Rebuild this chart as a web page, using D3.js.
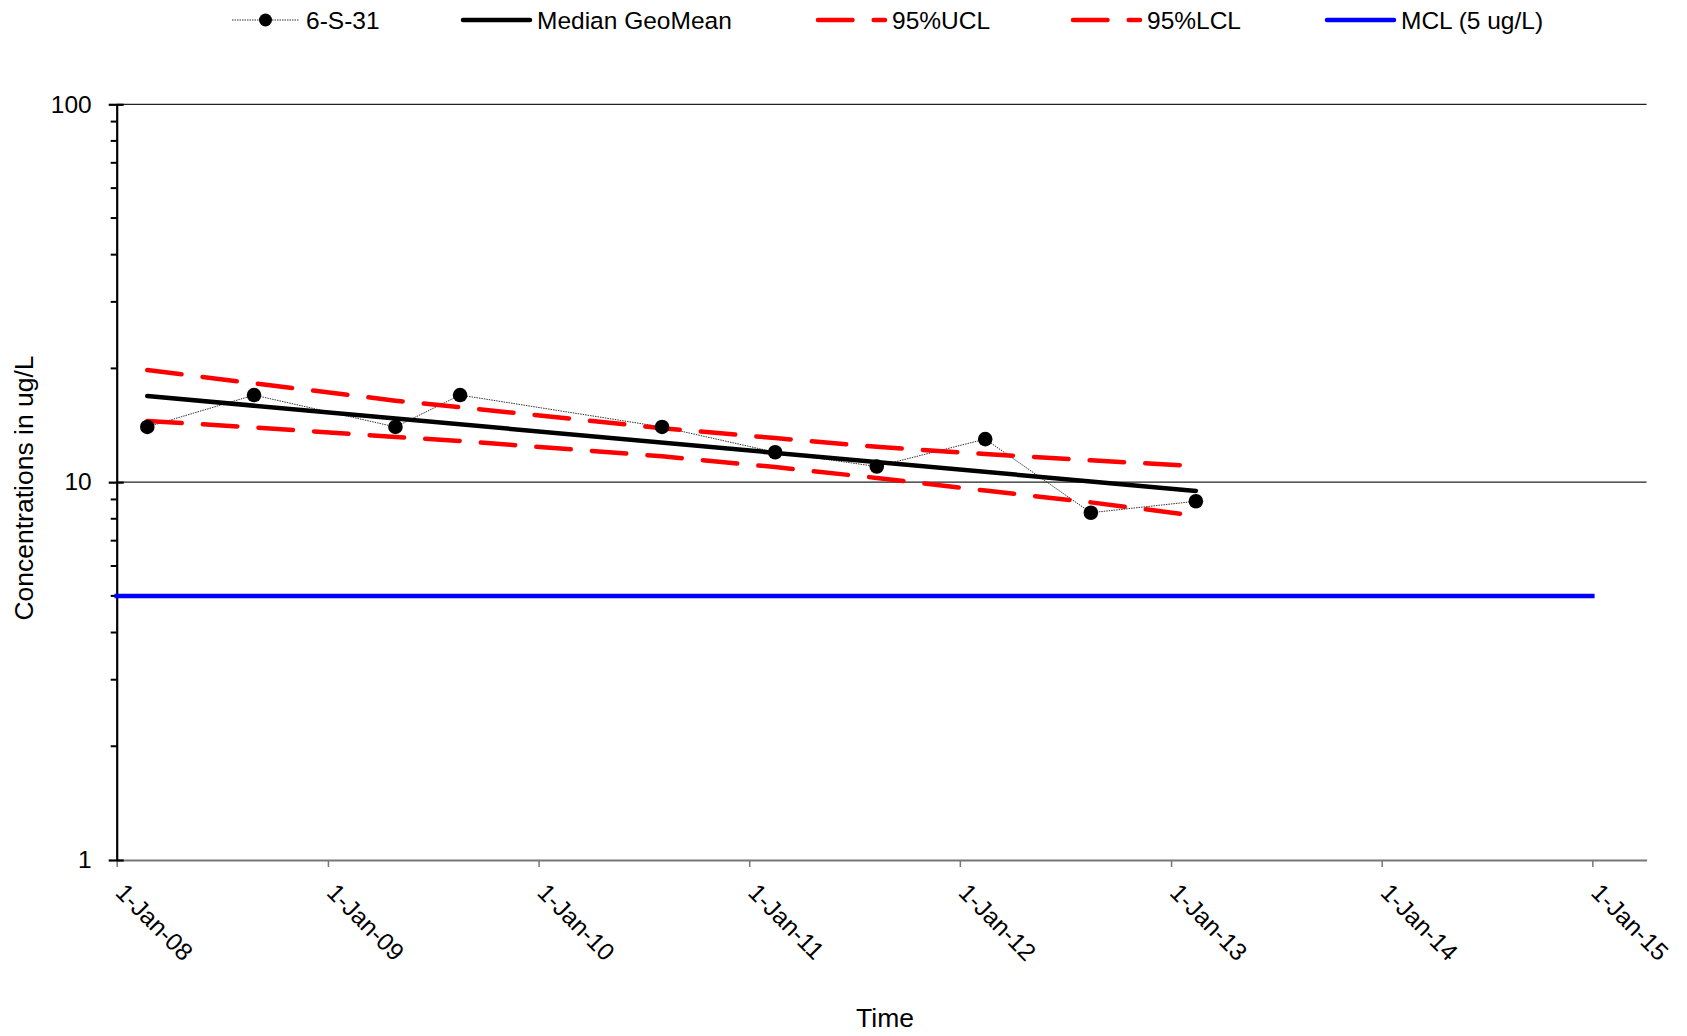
<!DOCTYPE html>
<html>
<head>
<meta charset="utf-8">
<script src="https://cdn.jsdelivr.net/npm/d3@7"></script>
<style>
  html, body { margin: 0; padding: 0; background: #fff; }
  svg text { font-family: "Liberation Sans", Arial, sans-serif; fill: #000; }
</style>
</head>
<body>
<svg id="chart" width="1687" height="1036"></svg>
<script>
// ---- data ----
const sampleDates = ["2008-02-23","2008-08-26","2009-04-28","2009-08-18","2010-08-03","2011-02-15","2011-08-10","2012-02-14","2012-08-15","2013-02-13"];
const sampleValues = [14, 17, 14, 17, 14, 12, 11, 13, 8.3, 8.9];
const medianDates = ["2008-02-23","2013-02-13"];
const medianValues = [16.9, 9.48];
const uclValues = [19.81, 18.26, 16.43, 15.79, 13.89, 13.08, 12.40, 11.87, 11.42, 11.03];
const lclValues = [14.51, 13.96, 13.17, 12.85, 11.71, 10.96, 10.26, 9.50, 8.84, 8.15];
const mclDates = ["2008-01-01","2015-01-01"];
const mclValues = [5, 5];
const xTickDates = ["2008-01-01","2009-01-01","2010-01-01","2011-01-01","2012-01-01","2013-01-01","2014-01-01","2015-01-01"];
const yMajorTicks = [1, 10, 100];
const yMinorTicks = [2,3,4,5,6,7,8,9,20,30,40,50,60,70,80,90];
const legendLabels = ["6-S-31","Median GeoMean","95%UCL","95%LCL","MCL (5 ug/L)"];

// ---- layout ----
const parse = d3.utcParse("%Y-%m-%d");
const L = 116.7, R = 1646.6, T = 104.3, B = 860;
const FS = 24.5;
const TFS = 26.5;
const svg = d3.select("#chart");

const x = d3.scaleUtc().domain([parse("2008-01-01"), parse("2015-04-05")]).range([L, R]);
const y = d3.scaleLog().domain([1, 100]).range([B, T]);

// gridlines (major)
svg.append("g").selectAll("line").data([10, 100]).join("line")
  .attr("x1", L).attr("x2", R).attr("y1", d => y(d)).attr("y2", d => y(d))
  .attr("stroke", "#222").attr("stroke-width", 1.2);

// x axis
const xAxis = d3.axisBottom(x)
  .tickValues(xTickDates.map(parse))
  .tickFormat(d3.utcFormat("%-d-%b-%y"))
  .tickSizeInner(7).tickSizeOuter(0);
const gx = svg.append("g").attr("transform", `translate(0,${B})`).call(xAxis);
gx.select(".domain").attr("stroke", "#777").attr("stroke-width", 1.8);
gx.selectAll(".tick line").attr("stroke", "#777").attr("stroke-width", 1.5);
gx.selectAll(".tick text")
  .attr("font-size", FS).attr("fill", "#000")
  .attr("text-anchor", "start")
  .attr("dy", null).attr("y", 0)
  .attr("transform", "translate(-3,34) rotate(45)");

// y axis
const yAxis = d3.axisLeft(y).tickValues(yMajorTicks).tickFormat(d3.format("d"))
  .tickSizeInner(8).tickSizeOuter(0).tickPadding(17);
const gy = svg.append("g").attr("transform", `translate(${L},0)`).call(yAxis);
gy.select(".domain").attr("stroke", "#000").attr("stroke-width", 2.2);
gy.selectAll(".tick line").attr("stroke", "#000").attr("stroke-width", 2.2).attr("x2", 7).attr("x1", -8);
gy.selectAll(".tick text").attr("font-size", FS).attr("fill", "#000");
// minor ticks
gy.append("g").selectAll("line").data(yMinorTicks).join("line")
  .attr("x1", -6).attr("x2", 0).attr("y1", d => y(d)).attr("y2", d => y(d))
  .attr("stroke", "#000").attr("stroke-width", 2);

// axis titles
svg.append("text").attr("x", 885).attr("y", 1027).attr("text-anchor", "middle")
  .attr("font-size", TFS).text("Time");
svg.append("text").attr("transform", `translate(33,488) rotate(-90)`)
  .attr("text-anchor", "middle").attr("font-size", TFS).text("Concentrations in ug/L");

// lines
const line = d3.line().x(d => x(d[0])).y(d => y(d[1]));
const pairs = (ds, vs) => ds.map((d, i) => [parse(d), vs[i]]);

// MCL
svg.append("path").datum(pairs(mclDates, mclValues)).attr("d", line)
  .attr("fill", "none").attr("stroke", "#0000ff").attr("stroke-width", 4.5).attr("stroke-linecap", "square");

// sample series
svg.append("path").datum(pairs(sampleDates, sampleValues)).attr("d", line)
  .attr("fill", "none").attr("stroke", "#333").attr("stroke-width", 1).attr("stroke-dasharray", "1.5,1");

// UCL, LCL
const dashStyle = p => p.attr("fill", "none").attr("stroke", "#ff0000").attr("stroke-width", 4.5)
  .attr("stroke-linecap", "round").attr("stroke-linejoin", "round").attr("stroke-dasharray", "34.5,21.2");
svg.append("path").datum(pairs(sampleDates, uclValues)).attr("d", line).call(dashStyle);
svg.append("path").datum(pairs(sampleDates, lclValues)).attr("d", line).call(dashStyle);

// median
svg.append("path").datum(pairs(medianDates, medianValues)).attr("d", line)
  .attr("fill", "none").attr("stroke", "#000").attr("stroke-width", 4.5).attr("stroke-linecap", "round");

// markers
svg.append("g").selectAll("circle").data(pairs(sampleDates, sampleValues)).join("circle")
  .attr("cx", d => x(d[0])).attr("cy", d => y(d[1])).attr("r", 7.3).attr("fill", "#000");

// legend
const legY = 20;
const legX = [232, 463, 818, 1073, 1327];
const lg = svg.append("g");
legendLabels.forEach((lab, i) => {
  const x0 = legX[i], x1 = x0 + 67;
  const ln = lg.append("line").attr("x1", x0).attr("x2", x1).attr("y1", legY).attr("y2", legY);
  if (i === 0) {
    ln.attr("stroke", "#333").attr("stroke-width", 1).attr("stroke-dasharray", "1.5,1");
    lg.append("circle").attr("cx", (x0 + x1) / 2).attr("cy", legY).attr("r", 6.5).attr("fill", "#000");
  } else if (i === 1) {
    ln.attr("stroke", "#000").attr("stroke-width", 4.5).attr("stroke-linecap", "round");
  } else if (i === 2 || i === 3) {
    ln.call(dashStyle);
  } else {
    ln.attr("stroke", "#0000ff").attr("stroke-width", 4.5).attr("stroke-linecap", "round");
  }
  lg.append("text").attr("x", x1 + 7).attr("y", legY).attr("dy", "0.35em")
    .attr("font-size", FS).text(lab);
});
</script>
</body>
</html>
